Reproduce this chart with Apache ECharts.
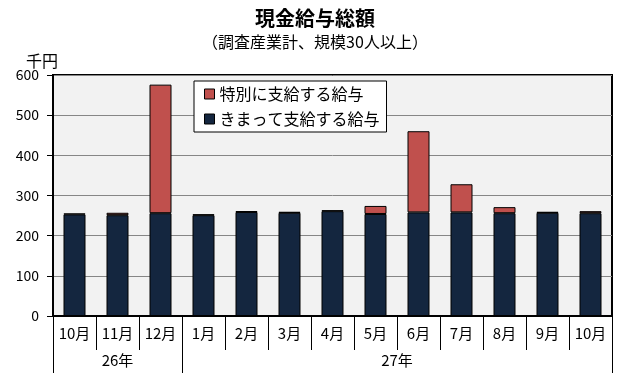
<!DOCTYPE html>
<html>
<head>
<meta charset="utf-8">
<script src="https://cdn.jsdelivr.net/npm/echarts@6/dist/echarts.min.js"></script>
<style>html,body{margin:0;padding:0;background:#fff}#c{width:630px;height:380px}</style>
</head>
<body>
<div id="c"></div>
<script>
var months = ['10月','11月','12月','1月','2月','3月','4月','5月','6月','7月','8月','9月','10月'];
var regular = [253, 251, 256, 251, 259, 257, 261, 254, 258, 258, 256, 257, 256];
var special = [2, 6, 320, 2, 2, 2, 2, 20, 202, 70, 15, 2, 5];
var years = ['26年', '27年'];
var yearSpans = [3, 10];
var yTicks = [0, 100, 200, 300, 400, 500, 600];

var bounds = [0], centers = [], acc = 0;
yearSpans.forEach(function (s) { centers.push(acc + s / 2); acc += s; bounds.push(acc); });

var FONT = '"Noto Sans CJK JP", sans-serif';
var chart = echarts.init(document.getElementById('c'), null, { renderer: 'canvas' });
chart.setOption({
  animation: false,
  textStyle: { fontFamily: FONT, color: '#000' },
  title: [
    { text: '現金給与総額', left: 'center', top: 3,
      textStyle: { fontFamily: FONT, fontSize: 20, fontWeight: 'bold', color: '#000' } },
    { text: '（調査産業計、規模30人以上）', left: 'center', top: 29,
      textStyle: { fontFamily: FONT, fontSize: 16, fontWeight: 'normal', color: '#000' } },
    { text: '千円', left: 21, top: 48,
      textStyle: { fontFamily: FONT, fontSize: 16, fontWeight: 'normal', color: '#000' } }
  ],
  legend: {
    orient: 'vertical', left: 194, top: 81,
    data: ['特別に支給する給与', 'きまって支給する給与'],
    backgroundColor: '#fff', borderColor: '#000', borderWidth: 1,
    padding: [4, 7, 4, 10], itemGap: 7, itemWidth: 10, itemHeight: 10,
    icon: 'rect',
    itemStyle: { borderColor: '#000', borderWidth: 1 },
    textStyle: { fontFamily: FONT, fontSize: 16, lineHeight: 18, color: '#000' }
  },
  grid: { left: 53, right: 18, top: 75, bottom: 64, show: true,
    backgroundColor: '#f2f2f2', borderColor: '#000', borderWidth: 2 },
  xAxis: [
    { type: 'category', data: months, position: 'bottom',
      axisLine: { show: true, lineStyle: { color: '#000', width: 2 } },
      axisTick: { show: true, interval: 0, length: 34, lineStyle: { color: '#000', width: 1 } },
      axisLabel: { interval: 0, margin: 10, fontFamily: FONT, fontSize: 15, color: '#000' } },
    { type: 'value', min: 0, max: 13, position: 'bottom',
      axisLine: { show: false }, splitLine: { show: false },
      axisTick: { show: true, customValues: bounds, length: 57, lineStyle: { color: '#000', width: 1 } },
      axisLabel: { customValues: centers, margin: 37, fontFamily: FONT, fontSize: 15, color: '#000',
        formatter: function (v) { var i = centers.indexOf(v); return i >= 0 ? years[i] : ''; } } }
  ],
  yAxis: {
    type: 'value', min: yTicks[0], max: yTicks[yTicks.length - 1], interval: 100,
    axisLine: { show: true, lineStyle: { color: '#000', width: 2 } },
    axisTick: { show: true, length: 6, lineStyle: { color: '#000' } },
    axisLabel: { margin: 14, fontFamily: FONT, fontSize: 14, color: '#000' },
    splitLine: { show: true, lineStyle: { color: '#868686', width: 1 } }
  },
  series: [
    { name: 'きまって支給する給与', type: 'bar', stack: 'total', data: regular, barWidth: 22,
      itemStyle: { color: '#14263f', borderColor: '#000', borderWidth: 1 } },
    { name: '特別に支給する給与', type: 'bar', stack: 'total', data: special, barWidth: 22,
      itemStyle: { color: '#c0504d', borderColor: '#000', borderWidth: 1 } }
  ]
});
</script>
</body>
</html>
